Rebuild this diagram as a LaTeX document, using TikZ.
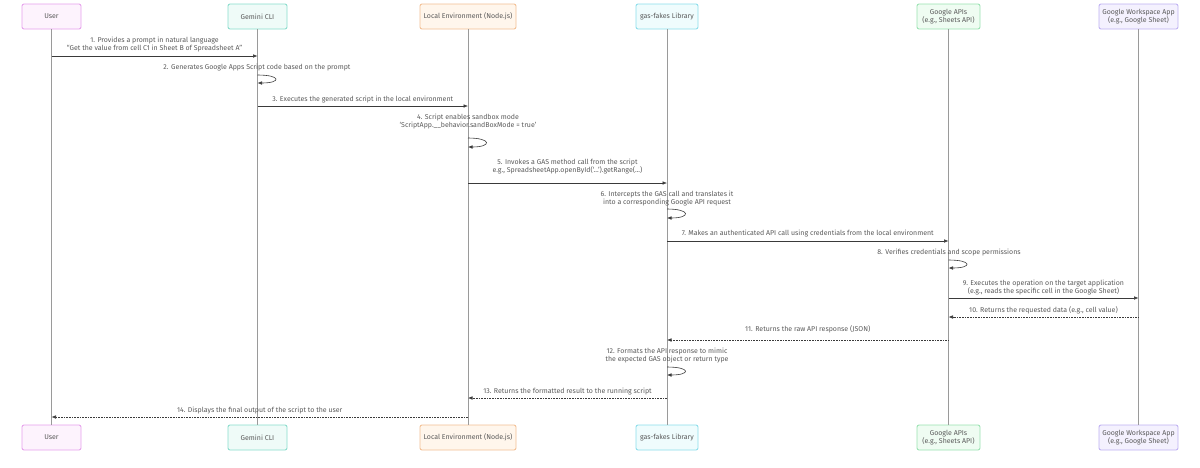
\documentclass[tikz,border=0pt]{standalone}
\usepackage{fontspec}
\setmainfont{Fira Sans}
\usetikzlibrary{arrows.meta}
\definecolor{txt}{HTML}{5A5A5A}
\definecolor{lifegray}{HTML}{9A9A9A}
\definecolor{arr}{HTML}{3A3A3A}
\definecolor{userB}{HTML}{E6A0EC}\definecolor{userF}{HTML}{FDF3FD}
\definecolor{gemB}{HTML}{88DCCB}\definecolor{gemF}{HTML}{EFFBF8}
\definecolor{locB}{HTML}{F2BE92}\definecolor{locF}{HTML}{FFF6EC}
\definecolor{gasB}{HTML}{8ADDEA}\definecolor{gasF}{HTML}{EFFCFD}
\definecolor{apiB}{HTML}{98E2B0}\definecolor{apiF}{HTML}{EFFCF2}
\definecolor{wsB}{HTML}{BEB0F2}\definecolor{wsF}{HTML}{F4F1FE}
\begin{document}
\begin{tikzpicture}[x=1pt, y=-1pt, font=\fontsize{7}{8}\selectfont, line join=round, >={Latex[length=4.5pt,width=3.6pt]},
	actor/.style={draw, rounded corners=2pt, line width=0.9pt, minimum height=25pt, inner sep=1pt, align=center, text=txt},
	life/.style={draw=lifegray, line width=1pt},
	msg/.style={->, draw=arr, line width=0.6pt},
	ret/.style={msg, dash pattern=on 0.8pt off 0.8pt},
	lbl/.style={text=txt, align=center, inner sep=0pt}]
	\useasboundingbox (0,0) rectangle (1200,467);
	%%%%%%%%%%%%%%%%%%%%%%%%%%%%%%%%%
	\node[actor, draw=userB, fill=userF, minimum width=59pt] (U) at (51.5,16.5) {User};
	\node[actor, draw=gemB, fill=gemF, minimum width=59pt] (G) at (257.5,16.5) {Gemini CLI};
	\node[actor, draw=locB, fill=locF, minimum width=96pt] (L) at (468,16.5) {Local Environment (Node.js)};
	\node[actor, draw=gasB, fill=gasF, minimum width=62pt] (F) at (667,16.5) {gas-fakes Library};
	\node[actor, draw=apiB, fill=apiF, minimum width=63pt] (A) at (948.5,16.5) {Google APIs\\(e.g., Sheets API)};
	\node[actor, draw=wsB, fill=wsF, minimum width=79pt] (W) at (1138.5,16.5) {Google Workspace App\\(e.g., Google Sheet)};
	%%%%%%%%%%%%%%%%%%%%%%%%%%%%%%%%%
	\node[actor, draw=userB, fill=userF, minimum width=59pt] (Ub) at (51.5,437.5) {User};
	\node[actor, draw=gemB, fill=gemF, minimum width=59pt] (Gb) at (257.5,437.5) {Gemini CLI};
	\node[actor, draw=locB, fill=locF, minimum width=96pt] (Lb) at (468,437.5) {Local Environment (Node.js)};
	\node[actor, draw=gasB, fill=gasF, minimum width=62pt] (Fb) at (667,437.5) {gas-fakes Library};
	\node[actor, draw=apiB, fill=apiF, minimum width=63pt] (Ab) at (948.5,437.5) {Google APIs\\(e.g., Sheets API)};
	\node[actor, draw=wsB, fill=wsF, minimum width=79pt] (Wb) at (1138.5,437.5) {Google Workspace App\\(e.g., Google Sheet)};
	%%%%%%%%%%%%%%%%%%%%%%%%%%%%%%%%%
	\begin{scope}[life]
		\draw (U) -- (Ub);
		\draw (G) -- (Gb);
		\draw (L) -- (Lb);
		\draw (F) -- (Fb);
		\draw (A) -- (Ab);
		\draw (W) -- (Wb);
	\end{scope}
	%%%%%%%%%%%%%%%%%%%%%%%%%%%%%%%%%
	\draw[msg] (U |- 0,56) -- (G |- 0,56) node[lbl, midway, above=3.5pt] {1. Provides a prompt in natural language\\``Get the value from cell C1 in Sheet B of Spreadsheet A''};
	\node[lbl] (t2) at (257,68) {2. Generates Google Apps Script code based on the prompt};
	\draw[msg] (G |- 0,75) .. controls +(24,0) and +(24,0) .. (G |- 0,83);
	\draw[msg] (G |- 0,106) -- (L |- 0,106) node[lbl, midway, above=3pt] {3. Executes the generated script in the local environment};
	\node[lbl] (t4) at (468,122) {4. Script enables sandbox mode\\`ScriptApp.\_\_behavior.sandBoxMode = true'};
	\draw[msg] (L |- 0,138) .. controls +(24,0) and +(24,0) .. (L |- 0,147);
	\draw[msg] (L |- 0,183) -- (F |- 0,183) node[lbl, midway, above=9pt] {5. Invokes a GAS method call from the script\\e.g., SpreadsheetApp.openById(`...').getRange(...)};
	\node[lbl] (t6) at (667,199) {6. Intercepts the GAS call and translates it\\into a corresponding Google API request};
	\draw[msg] (F |- 0,209) .. controls +(24,0) and +(24,0) .. (F |- 0,218);
	\draw[msg] (F |- 0,241) -- (A |- 0,241) node[lbl, midway, above=4pt] {7. Makes an authenticated API call using credentials from the local environment};
	\node[lbl] (t8) at (949,253) {8. Verifies credentials and scope permissions};
	\draw[msg] (A |- 0,260) .. controls +(24,0) and +(24,0) .. (A |- 0,268);
	\draw[msg] (A |- 0,298) -- (W |- 0,298) node[lbl, midway, above=2.75pt] {9. Executes the operation on the target application\\(e.g., reads the specific cell in the Google Sheet)};
	\draw[ret] (W |- 0,317) -- (A |- 0,317) node[lbl, midway, above=3pt] {10. Returns the requested data (e.g., cell value)};
	\draw[ret] (A |- 0,340) -- (F |- 0,340) node[lbl, midway, above=7pt] {11. Returns the raw API response (JSON)};
	\node[lbl] (t12) at (667,356) {12. Formats the API response to mimic\\the expected GAS object or return type};
	\draw[msg] (F |- 0,367) .. controls +(24,0) and +(24,0) .. (F |- 0,375);
	\draw[ret] (F |- 0,398) -- (L |- 0,398) node[lbl, midway, above=3pt] {13. Returns the formatted result to the running script};
	\draw[ret] (L |- 0,417) -- (U |- 0,417) node[lbl, midway, above=3pt] {14. Displays the final output of the script to the user};
	%%%%%%%%%%%%%%%%%%%%%%%%%%%%%%%%%
\end{tikzpicture}
\end{document}
